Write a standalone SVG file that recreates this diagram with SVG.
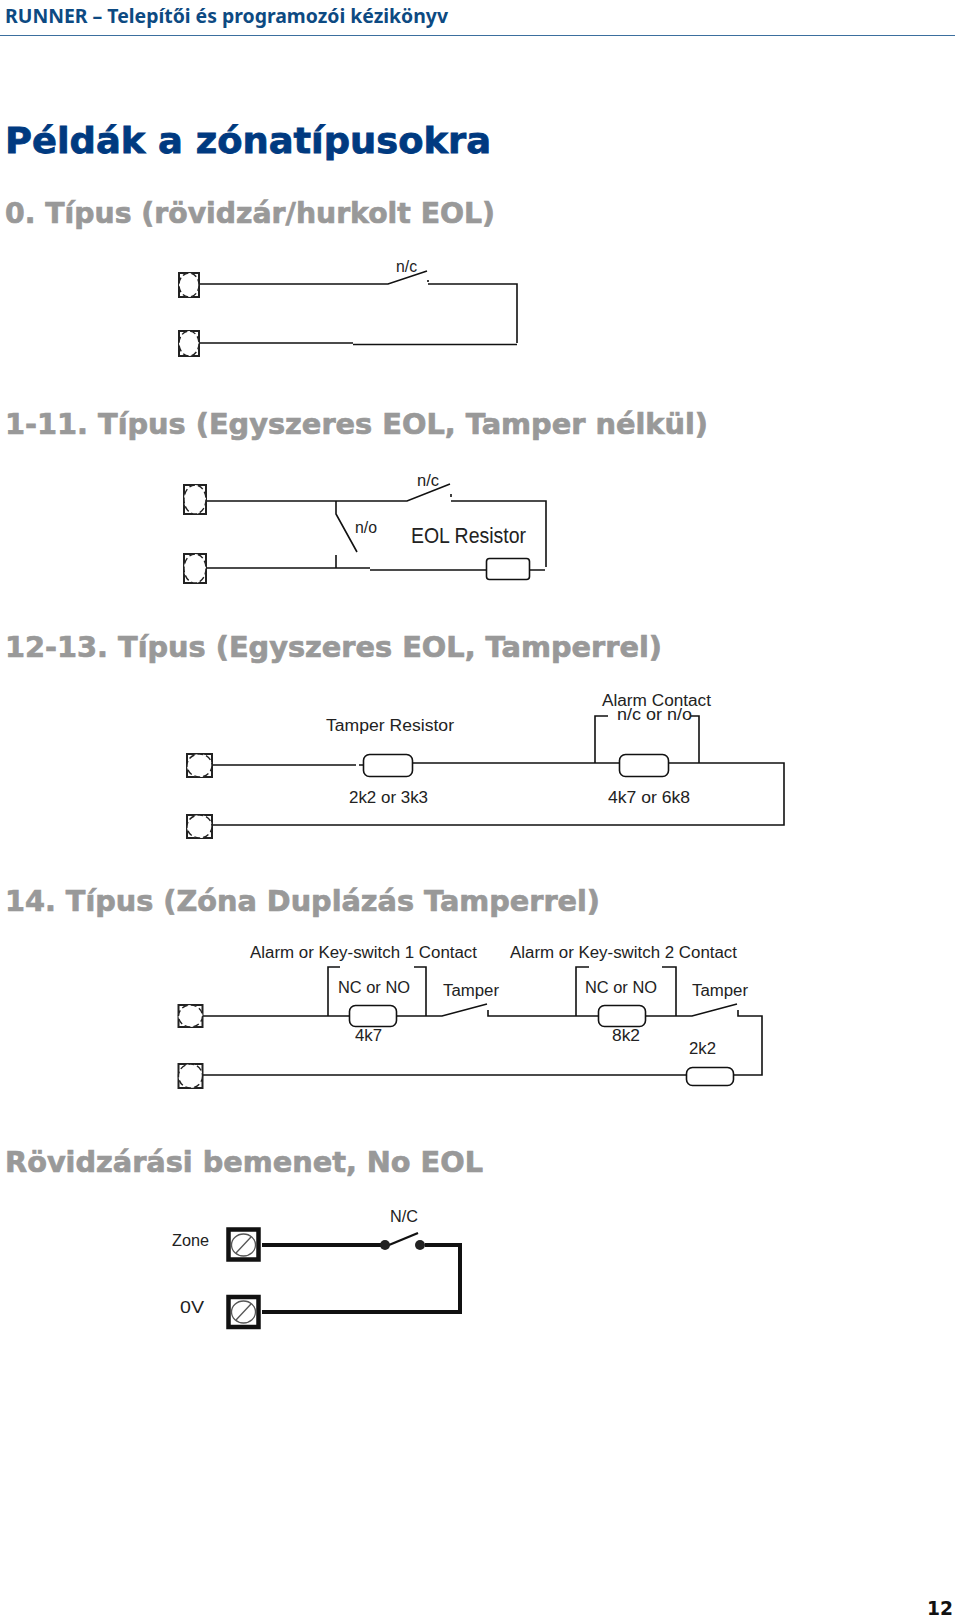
<svg xmlns="http://www.w3.org/2000/svg" width="960" height="1618" viewBox="0 0 960 1618">
<style>
.hdr{font:bold 19px "Noto Sans","Liberation Sans",sans-serif;fill:#0d4a82}
.title{font:bold 36px "DejaVu Sans",sans-serif;fill:#003a80;stroke:#003a80;stroke-width:.8}
.sec{font:bold 29px "DejaVu Sans",sans-serif;fill:#999;stroke:#999;stroke-width:.7}
.pg{font:bold 19px "DejaVu Sans",sans-serif;fill:#111}
.lb{font:16px "Liberation Sans",sans-serif;fill:#222}
.w{fill:none;stroke:#111;stroke-width:1.6;stroke-linecap:butt;stroke-linejoin:miter}
.r{fill:#fff;stroke:#111;stroke-width:1.6}
.t{fill:#fff;stroke:#222;stroke-width:2}
.c{fill:#fff;stroke:#222;stroke-width:1.4;stroke-dasharray:6 3}
.w5{fill:none;stroke:#111;stroke-width:4}
.arm{fill:none;stroke:#111;stroke-width:2.4}
.t5{fill:#fff;stroke:#111;stroke-width:4.5}
.s5{fill:none;stroke:#555;stroke-width:1.3}
</style>
<rect width="960" height="1618" fill="#fff"/>
<g id="page-text">
<text class="hdr" x="5" y="23" textLength="443" lengthAdjust="spacingAndGlyphs">RUNNER – Telepítői és programozói kézikönyv</text>
<line x1="0" y1="35.5" x2="955" y2="35.5" stroke="#3b6f9e" stroke-width="1.2"/>
<text class="title" x="5" y="153" textLength="486" lengthAdjust="spacingAndGlyphs">Példák a zónatípusokra</text>
<text class="sec" x="5" y="223" textLength="490" lengthAdjust="spacingAndGlyphs">0. Típus (rövidzár/hurkolt EOL)</text>
<text class="sec" x="5" y="434" textLength="703" lengthAdjust="spacingAndGlyphs">1-11. Típus (Egyszeres EOL, Tamper nélkül)</text>
<text class="sec" x="5" y="657" textLength="657" lengthAdjust="spacingAndGlyphs">12-13. Típus (Egyszeres EOL, Tamperrel)</text>
<text class="sec" x="5" y="911" textLength="595" lengthAdjust="spacingAndGlyphs">14. Típus (Zóna Duplázás Tamperrel)</text>
<text class="sec" x="5" y="1172" textLength="478" lengthAdjust="spacingAndGlyphs">Rövidzárási bemenet, No EOL</text>
<text class="pg" x="927" y="1615" textLength="26" lengthAdjust="spacingAndGlyphs">12</text>
</g>
<g id="connectors">
<path class="w" d="M199 284H388L427 271M428 280v2M428 284H517V343M199 343H353M353 344.5H517"/>
<path class="w" d="M206 501H407L450 484M451 494v3M451 501H546V567M206 568H370M370 570H486M530 570H545M336 501V514L357 552M336 555V568"/>
<path class="w" d="M212 765H356M363 765H359M413 763H784V825H212M595 763V716H608M699 763V716H690"/>
<path class="w" d="M203 1016H442L487 1004M488 1010V1016H578M328 1016V967H340M426 1016V967H414M578 1016H692L737 1004M738 1010V1016H762V1075H203M576 1016V967H589M676 1016V967H662"/>
<path class="w5" d="M262 1245H381M425 1245H460V1312H262"/>
<path class="arm" d="M389 1245L418 1233"/>
</g>
<g id="diagram-0">
<g id="d0-t1"><rect class="t" x="179" y="273" width="20" height="24"/><ellipse class="c" cx="189" cy="285" rx="10" ry="12"/></g>
<g id="d0-t2"><rect class="t" x="179" y="331" width="20" height="25"/><ellipse class="c" cx="189" cy="343.500" rx="10" ry="12.500"/></g>
<text class="lb" x="396" y="272" textLength="21" lengthAdjust="spacingAndGlyphs">n/c</text>
</g>
<g id="diagram-1">
<g id="d1-t1"><rect class="t" x="184" y="485" width="22" height="29"/><ellipse class="c" cx="195" cy="499.500" rx="11" ry="14.500"/></g>
<g id="d1-t2"><rect class="t" x="184" y="554" width="22" height="29"/><ellipse class="c" cx="195" cy="568.500" rx="11" ry="14.500"/></g>
<g id="d1-r"><rect class="r" x="486.500" y="558.500" width="43" height="21" rx="3"/></g>
<text class="lb" x="417" y="486" textLength="22" lengthAdjust="spacingAndGlyphs">n/c</text>
<text class="lb" x="355" y="533" textLength="22" lengthAdjust="spacingAndGlyphs">n/o</text>
<text class="lb" style="font-size:22px" x="411" y="543" textLength="115" lengthAdjust="spacingAndGlyphs">EOL Resistor</text>
</g>
<g id="diagram-2">
<g id="d2-t1"><rect class="t" x="187" y="754" width="25" height="23"/><ellipse class="c" cx="199.500" cy="765.500" rx="12.500" ry="11.500"/></g>
<g id="d2-t2"><rect class="t" x="187" y="815" width="25" height="23"/><ellipse class="c" cx="199.500" cy="826.500" rx="12.500" ry="11.500"/></g>
<g id="d2-r1"><rect class="r" x="363.500" y="754.500" width="49" height="22" rx="6"/></g>
<g id="d2-r2"><rect class="r" x="619.500" y="754.500" width="49" height="22" rx="6"/></g>
<text class="lb" x="326" y="731" textLength="128" lengthAdjust="spacingAndGlyphs">Tamper Resistor</text>
<text class="lb" x="349" y="803" textLength="79" lengthAdjust="spacingAndGlyphs">2k2 or 3k3</text>
<text class="lb" x="602" y="706" textLength="109" lengthAdjust="spacingAndGlyphs">Alarm Contact</text>
<text class="lb" x="617" y="720" textLength="75" lengthAdjust="spacingAndGlyphs">n/c or n/o</text>
<text class="lb" x="608" y="803" textLength="82" lengthAdjust="spacingAndGlyphs">4k7 or 6k8</text>
</g>
<g id="diagram-3">
<g id="d3-t1"><rect class="t" x="178.500" y="1005" width="24" height="22"/><ellipse class="c" cx="190.500" cy="1016" rx="12" ry="11"/></g>
<g id="d3-t2"><rect class="t" x="178.500" y="1064" width="24" height="24"/><ellipse class="c" cx="190.500" cy="1076" rx="12" ry="12"/></g>
<g id="d3-r1"><rect class="r" x="349.500" y="1005.500" width="47" height="21" rx="6"/></g>
<g id="d3-r2"><rect class="r" x="598.500" y="1005.500" width="47" height="21" rx="6"/></g>
<g id="d3-r3"><rect class="r" x="686.500" y="1067.500" width="47" height="18" rx="6"/></g>
<text class="lb" x="250" y="958" textLength="227" lengthAdjust="spacingAndGlyphs">Alarm or Key-switch 1 Contact</text>
<text class="lb" x="510" y="958" textLength="227" lengthAdjust="spacingAndGlyphs">Alarm or Key-switch 2 Contact</text>
<text class="lb" x="338" y="993" textLength="72" lengthAdjust="spacingAndGlyphs">NC or NO</text>
<text class="lb" x="585" y="993" textLength="72" lengthAdjust="spacingAndGlyphs">NC or NO</text>
<text class="lb" x="443" y="996" textLength="56" lengthAdjust="spacingAndGlyphs">Tamper</text>
<text class="lb" x="692" y="996" textLength="56" lengthAdjust="spacingAndGlyphs">Tamper</text>
<text class="lb" x="355" y="1041" textLength="27" lengthAdjust="spacingAndGlyphs">4k7</text>
<text class="lb" x="612" y="1041" textLength="28" lengthAdjust="spacingAndGlyphs">8k2</text>
<text class="lb" x="689" y="1054" textLength="27" lengthAdjust="spacingAndGlyphs">2k2</text>
</g>
<g id="diagram-4">
<g id="d4-t1"><rect class="t5" x="228.500" y="1229.500" width="30" height="30"/><ellipse class="s5" cx="243.500" cy="1245" rx="12" ry="11"/><line class="s5" x1="236" y1="1253" x2="251" y2="1237"/></g>
<g id="d4-t2"><rect class="t5" x="228.500" y="1297" width="30" height="30"/><ellipse class="s5" cx="243.500" cy="1312" rx="12" ry="11"/><line class="s5" x1="236" y1="1320" x2="251" y2="1304"/></g>
<circle cx="385" cy="1245" r="5" fill="#222"/>
<circle cx="420" cy="1245" r="5" fill="#222"/>
<text class="lb" x="172" y="1246" textLength="37" lengthAdjust="spacingAndGlyphs">Zone</text>
<text class="lb" x="180" y="1313" textLength="24" lengthAdjust="spacingAndGlyphs">0V</text>
<text class="lb" x="390" y="1222" textLength="28" lengthAdjust="spacingAndGlyphs">N/C</text>
</g>
</svg>
